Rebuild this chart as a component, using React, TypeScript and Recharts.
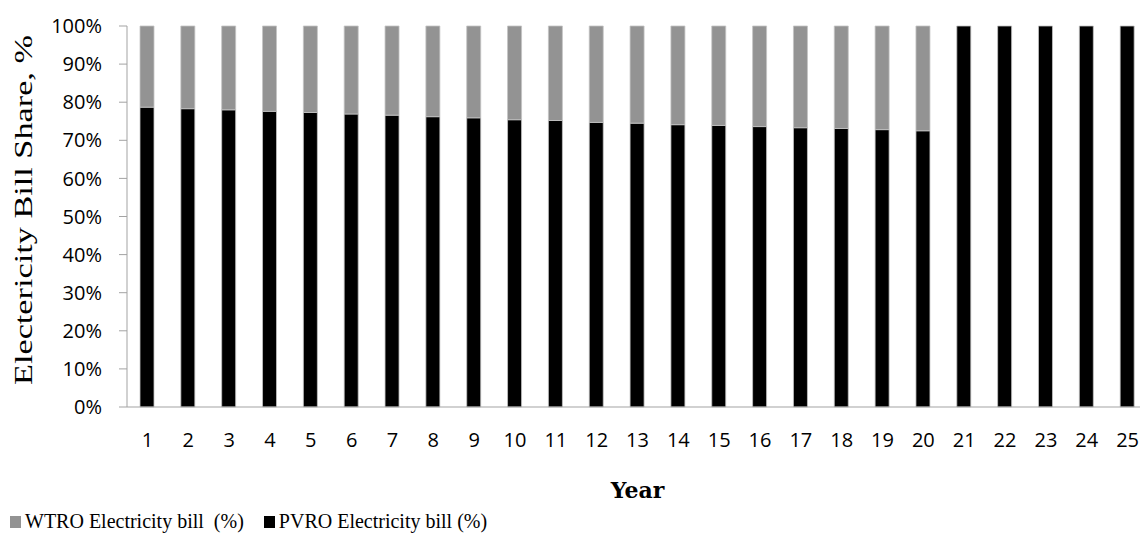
import React from 'react';
import { BarChart, Bar, XAxis, YAxis, Label } from 'recharts';

const years = [1, 2, 3, 4, 5, 6, 7, 8, 9, 10, 11, 12, 13, 14, 15, 16, 17, 18, 19, 20, 21, 22, 23, 24, 25];
const pvroShare = [78.7, 78.3, 78.0, 77.6, 77.3, 76.9, 76.6, 76.2, 75.9, 75.4, 75.2, 74.7, 74.5, 74.1, 73.9, 73.6, 73.3, 73.1, 72.8, 72.5, 100, 100, 100, 100, 100];
const wtroShare = [21.3, 21.7, 22.0, 22.4, 22.7, 23.1, 23.4, 23.8, 24.1, 24.6, 24.8, 25.3, 25.5, 25.9, 26.1, 26.4, 26.7, 26.9, 27.2, 27.5, 0, 0, 0, 0, 0];
const yTicks = [0, 10, 20, 30, 40, 50, 60, 70, 80, 90, 100];
const yearEdges = [0, 1, 2, 3, 4, 5, 6, 7, 8, 9, 10, 11, 12, 13, 14, 15, 16, 17, 18, 19, 20, 21, 22, 23, 24, 25];

const series = [
  { key: 'wtro', name: 'WTRO Electricity bill  (%)', color: '#939393' },
  { key: 'pvro', name: 'PVRO Electricity bill (%)', color: '#000000' },
];

const data = years.map((y, i) => ({ year: y, pvro: pvroShare[i], wtro: wtroShare[i] }));

const axisGray = '#a3a3a3';
const tickFont = { fill: '#000', fontFamily: '"Open Sans", sans-serif', fontSize: 20 };

const App: React.FC = () => {
  return (
    <div style={{ position: 'absolute', left: 0, top: 0, width: 1140, height: 548, overflow: 'hidden', background: '#fff' }}>
      <BarChart width={1160} height={548} data={data} margin={{ top: 26, right: 12, bottom: 0, left: 0 }}>
        <XAxis
          xAxisId="a"
          type="number"
          domain={[0, 25]}
          ticks={yearEdges}
          tick={false}
          tickSize={7}
          stroke={axisGray}
          height={8}
          allowDataOverflow
        />
        <XAxis
          xAxisId="b"
          dataKey="year"
          axisLine={false}
          tickLine={false}
          tickSize={0}
          tickMargin={18}
          tick={tickFont}
          interval={0}
          height={133}
        >
          <Label
            content={(props: any) => {
              const vb = props.viewBox;
              return (
                <text
                  x={vb.x + vb.width / 2}
                  y={498}
                  textAnchor="middle"
                  fontFamily='"DejaVu Serif", serif'
                  fontWeight="bold"
                  fontSize={22}
                  fill="#000"
                >
                  Year
                </text>
              );
            }}
          />
        </XAxis>
        <YAxis
          domain={[0, 100]}
          ticks={yTicks}
          tickFormatter={(v: number) => `${v}%`}
          tick={tickFont}
          tickSize={8}
          tickMargin={17}
          stroke={axisGray}
          width={127}
          interval={0}
        >
          <Label
            content={() => (
              <text
                x={0}
                y={0}
                transform="translate(32,210) rotate(-90)"
                textAnchor="middle"
                fontFamily='"Liberation Serif", serif'
                fontSize={25}
                fill="#000"
                textLength={350}
                lengthAdjust="spacingAndGlyphs"
              >
                Electericity Bill Share,  %
              </text>
            )}
          />
        </YAxis>
        <Bar
          xAxisId="b"
          dataKey="pvro"
          name={series[1].name}
          stackId="s"
          fill={series[1].color}
          stroke="#c4c4c4"
          strokeWidth={0.8}
          barSize={14}
          isAnimationActive={false}
        />
        <Bar
          xAxisId="b"
          dataKey="wtro"
          name={series[0].name}
          stackId="s"
          fill={series[0].color}
          stroke="#c4c4c4"
          strokeWidth={0.8}
          barSize={14}
          isAnimationActive={false}
        />
      </BarChart>
      <div
        style={{
          position: 'absolute',
          left: 10,
          top: 510,
          display: 'flex',
          alignItems: 'center',
          fontFamily: '"Liberation Serif", serif',
          fontSize: 20,
          color: '#000',
          whiteSpace: 'pre',
        }}
      >
        {series.map((s, i) => (
          <div key={s.key} style={{ display: 'flex', alignItems: 'center', marginLeft: i === 0 ? 0 : 20 }}>
            <span style={{ display: 'inline-block', width: 11, height: 12, background: s.color, marginRight: 4 }} />
            <span>{s.name}</span>
          </div>
        ))}
      </div>
    </div>
  );
};

export default App;
